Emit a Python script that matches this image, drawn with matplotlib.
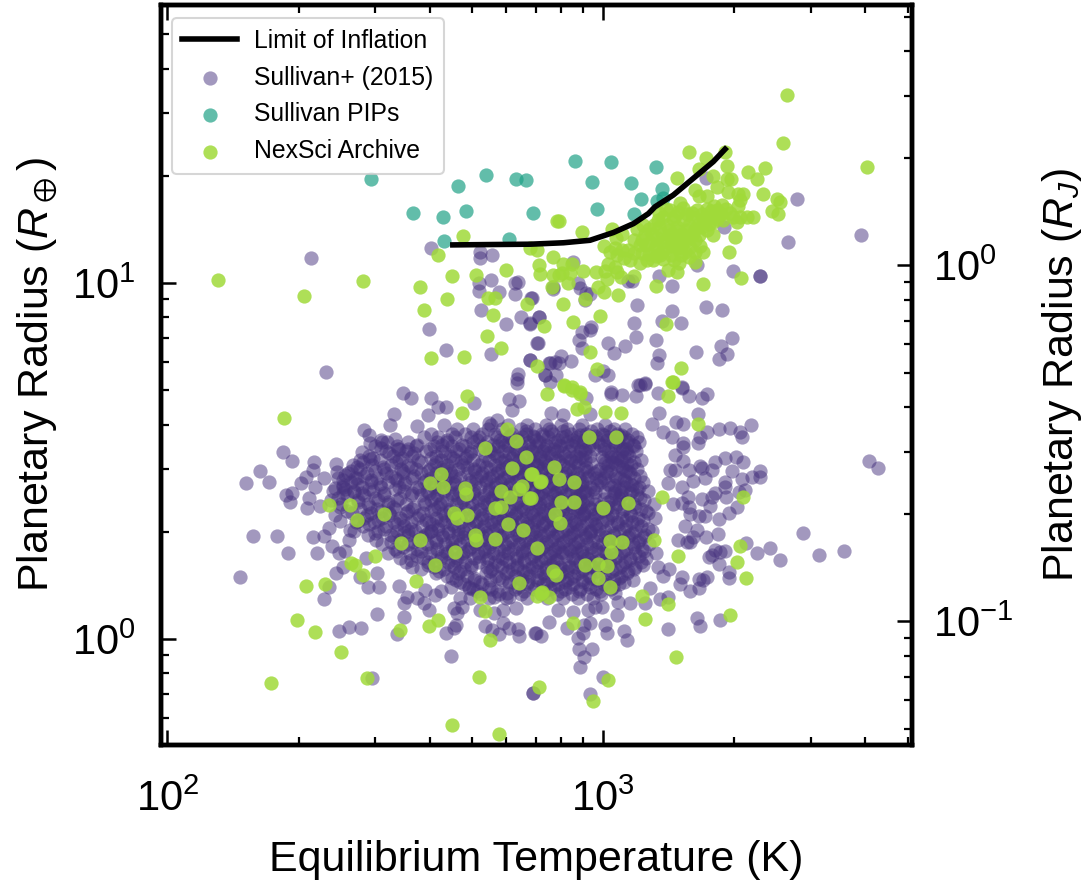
import numpy as np
import matplotlib
matplotlib.use("Agg")
import matplotlib.pyplot as plt

# All values are log10(Teq / K), log10(R / Rearth).
limit_log_teq = [2.655, 2.74, 2.833, 2.909, 2.970, 3.024, 3.070, 3.104, 3.119, 3.161, 3.207, 3.253, 3.280]
limit_log_rad = [1.107, 1.108, 1.109, 1.113, 1.120, 1.142, 1.167, 1.195, 1.214, 1.247, 1.294, 1.341, 1.376]

pips = [(2.467,1.291),(2.564,1.198),(2.632,1.185),(2.686,1.203),(2.668,1.272),(2.731,1.303),(2.801,1.293),
(2.822,1.288),(2.838,1.198),(2.635,1.117),(2.785,1.123),(2.935,1.342),(3.019,1.339),(3.121,1.326),(2.974,1.284),
(3.063,1.282),(3.087,1.237),(3.135,1.265),(3.123,1.231),(3.137,1.240),(2.986,1.207),(3.070,1.194)]

archive_upper = [(2.116,1.008),(2.313,.964),(2.448,1.006),(2.580,.988),(2.642,.955),(2.588,.923),(2.652,1.021),
(2.622,1.079),(2.678,1.131),(2.708,1.023),(2.777,1.037),(2.735,.957),(2.752,.959),(2.747,.910),(2.825,.941),
(2.865,.878),(2.734,.852),(2.765,.817),(2.605,.789),(2.680,.792),(2.849,.767),(2.833,1.097),(2.848,1.093),
(2.885,1.072),(2.852,1.050),(2.856,1.025),(2.885,1.023),(2.898,1.023),(2.882,.990),(2.894,1.175),
(3.422,1.527),(3.414,1.393),(3.606,1.326),(3.197,1.367),(3.236,1.350),(3.219,1.321),(3.285,1.329),(3.280,1.369),
(3.333,1.312),(3.372,1.322),(3.353,1.291),(3.169,1.295),(3.253,1.300),(3.284,1.293),(3.294,1.292),(3.261,1.270),
(3.211,1.261),(3.366,1.249),(3.398,1.236),(3.407,1.227),(3.388,1.201),(3.401,1.194),(3.345,1.185),(3.330,1.185),
(3.299,1.186),(3.314,1.186),(3.307,1.172),(3.322,1.250),(3.310,1.250),(3.314,1.233),(3.310,1.216),(3.287,1.256),
(3.272,1.219),(3.238,1.244),(3.219,1.244),(3.177,1.226),(2.898,1.174),(2.952,1.144),(3.020,1.153)]

archive_cluster = [(3.154,1.205),(3.173,1.200),(3.192,1.195),(3.215,1.205),(3.238,1.209),(3.261,1.205),(3.249,1.186),
(3.230,1.181),(3.207,1.186),(3.184,1.177),(3.161,1.181),(3.138,1.186),(3.127,1.177),(3.116,1.163),(3.146,1.163),
(3.169,1.158),(3.196,1.163),(3.219,1.167),(3.242,1.167),(3.261,1.181),(3.112,1.139),(3.135,1.139),(3.158,1.139),
(3.181,1.139),(3.207,1.139),(3.226,1.158),(3.252,1.135),(3.303,1.130),(3.096,1.139),(3.077,1.153),(3.070,1.121),
(3.089,1.121),(3.108,1.116),(3.135,1.116),(3.158,1.116),(3.180,1.111),(3.211,1.121),(3.192,1.121),(3.085,1.106),
(3.119,1.093),(3.146,1.097),(3.169,1.097),(3.188,1.088),(3.211,1.088),(3.230,1.088),(3.289,1.088),(3.131,1.078),
(3.115,1.064),(3.100,1.064),(3.085,1.055),(3.062,1.064),(3.047,1.069),(3.031,1.078),(3.016,1.088),(3.002,1.104),
(3.030,1.125),(3.043,1.139),(3.163,1.064),(3.175,1.055),(3.211,1.060),(3.150,1.036),(3.169,1.032),(3.070,1.020),
(3.121,.991),(3.230,.998),(3.316,1.014),(2.907,1.052),(2.928,1.052),(2.905,1.027),(2.924,1.027),(2.953,1.033),
(2.983,1.032),(3.005,1.033),(3.012,1.052),(3.028,1.046),(3.010,1.010),(3.031,1.032),(3.041,1.018),(2.920,.999),
(2.988,.988),(3.001,.975),(3.034,.966),(2.959,.954),(2.909,.941),(2.930,.889),(2.992,.907),(3.144,.885),
(2.971,.806),(2.986,.758),(3.179,.762),(3.160,.723),(2.911,.713),(2.928,.707),(2.946,.695)]

archive_core_extra = [(3.128,1.196),(3.145,1.207),(3.166,1.188),(3.183,1.212),(3.203,1.196),(3.226,1.195),(3.247,1.201),
(3.271,1.193),(3.283,1.208),(3.252,1.172),(3.231,1.172),(3.211,1.152),(3.192,1.149),(3.173,1.147),(3.152,1.150),
(3.128,1.156),(3.105,1.151),(3.091,1.164),(3.123,1.127),(3.146,1.127),(3.168,1.126),(3.199,1.128),(3.178,1.128),
(3.221,1.134),(3.238,1.148),(3.098,1.108),(3.122,1.104),(3.158,1.105),(3.178,1.101),(3.199,1.102),(3.222,1.104),
(3.135,1.086),(3.156,1.080),(3.178,1.078),(3.121,1.075),(3.106,1.082),(3.089,1.083),(3.072,1.085),(3.058,1.094),
(3.044,1.092),(3.027,1.098),(3.197,1.074),(3.138,1.066),(3.269,1.193),(3.254,1.215),(3.292,1.196),(3.276,1.176)]

archive_lower = [(2.267,.620),(2.687,.683),(2.676,.635),(2.779,.589),(2.800,.555),(2.729,.536),(2.823,.512),
(2.628,.464),(2.791,.479),(2.834,.462),(2.602,.438),(2.632,.427),(2.682,.423),(2.685,.406),(2.765,.416),
(2.814,.430),(2.806,.420),(2.787,.399),(2.829,.396),(2.854,.442),(2.370,.377),(2.418,.377),(2.436,.333),
(2.496,.352),(2.657,.355),(2.664,.340),(2.687,.349),(2.752,.367),(2.765,.372),(2.781,.323),(2.817,.306),
(2.706,.292),(2.708,.277),(2.751,.282),(2.536,.269),(2.580,.279),(2.660,.244),(2.848,.256),(2.476,.234),
(2.613,.208),(2.421,.213),(2.431,.207),(2.449,.180),(2.317,.150),(2.361,.155),(2.571,.162),(2.808,.156),
(2.718,.118),(2.849,.121),(2.728,.079),(2.298,.053),(2.339,.020),(2.398,-.037),(2.533,.024),(2.601,.036),
(2.620,.054),(2.741,-.004),(2.237,-.123),(2.458,-.111),(2.714,-.107),(2.852,-.136),(2.652,-.243),(2.761,-.267),
(2.871,.688),(2.911,.712),(2.928,.699),(2.946,.688),(2.940,.645),(2.955,.653),(3.005,.637),(3.041,.635),
(3.150,.683),(3.159,.723),(3.217,.603),(2.967,.567),(3.029,.568),(2.887,.484),(2.836,.463),(2.858,.444),
(2.898,.448),(2.934,.440),(2.834,.395),(2.903,.384),(2.933,.385),(3.000,.369),(3.058,.381),(3.136,.399),
(3.322,.399),(2.890,.351),(2.902,.326),(3.016,.275),(3.043,.271),(3.018,.243),(3.116,.279),(2.959,.209),
(2.989,.210),(3.008,.205),(2.989,.172),(2.885,.192),(2.892,.180),(3.016,.146),(3.090,.121),(3.149,.097),
(3.171,.234),(3.314,.261),(3.307,.215),(3.328,.171),(3.291,.066),(3.096,.057),(2.930,.046),(3.167,-.050),
(3.012,-.116),(2.977,-.174),(2.858,.128),(2.875,.117),(2.859,.133)]

sullivan_upper = [(2.330,1.071),(2.606,1.099),(2.718,1.086),(2.745,1.079),(2.718,1.069),(2.716,.999),(2.742,1.007),
(2.714,.978),(2.762,.975),(2.798,1.001),(2.804,1.004),(2.798,.968),(2.834,.957),(2.719,.923),(2.812,.905),
(2.778,.885),(2.833,.887),(2.852,.905),(2.600,.871),(2.849,.831),(2.639,.811),(2.742,.801),(2.833,.785),
(2.875,.774),(2.890,.779),(2.364,.750),(2.804,.744),(2.802,.730),(2.867,.742),(2.886,.990),(3.446,1.236),
(3.592,1.134),(3.425,1.114),(3.236,1.296),(3.278,1.157),(2.932,1.060),(3.215,1.050),(3.297,1.034),(3.360,1.019),
(3.360,1.019),(3.129,1.019),(3.157,.992),(3.066,1.005),(3.058,1.005),(2.943,1.001),(2.947,.985),(2.886,.982),
(2.961,.971),(2.970,.969),(2.959,.952),(2.836,.957),(3.077,.938),(3.235,.933),(3.273,.924),(3.157,.922),
(2.852,.904),(2.833,.886),(3.070,.888),(3.135,.894),(3.178,.887),(2.972,.877),(2.969,.868),(2.951,.861),
(2.945,.839),(3.076,.848),(3.122,.841),(3.296,.845),(3.011,.830),(3.050,.822),(2.850,.830),(2.951,.816),
(3.271,.822),(3.026,.803),(3.213,.806),(3.284,.801),(3.129,.798),(3.265,.787),(3.123,.775),(2.904,.796),
(2.927,.782),(2.878,.774),(2.898,.774),(2.833,.785),(2.867,.741),(2.892,.741),(2.982,.741),(2.999,.753),
(3.011,.741),(2.878,.722),(3.081,.713),(3.096,.718),(3.180,.707),(3.017,.694)]

sullivan_right = [(3.076,.683),(3.017,.688),(3.044,.686),(3.127,.690),(3.182,.704),(3.196,.683),(3.226,.676),
(3.239,.688),(3.085,.713),(3.096,.716),(2.961,.676),(2.970,.631),(2.880,.636),(2.907,.629),(3.129,.634),(3.217,.632),
(3.112,.603),(3.167,.610),(3.183,.604),(3.138,.582),(3.158,.566),(3.238,.582),(3.222,.568),(3.267,.589),(3.291,.594),
(3.314,.582),(3.319,.568),(3.340,.601),(3.217,.551),(3.184,.550),(3.184,.540),(3.165,.517),(3.257,.498),(3.280,.507),
(3.304,.510),(3.322,.496),(3.295,.473),(3.359,.472),(3.341,.456),(3.359,.456),(3.319,.448),(3.610,.499),(3.630,.480),
(3.184,.500),(3.154,.475),(3.165,.475),(3.198,.475),(3.222,.486),(3.226,.479),(3.249,.475),(3.234,.451),(3.207,.444),
(3.280,.442),(3.280,.428),(3.150,.437),(3.180,.428),(3.312,.414),(3.326,.419),(3.257,.411),(3.251,.400),(3.281,.400),
(3.226,.393),(3.194,.400),(3.245,.374),(3.308,.371),(3.289,.353),(3.266,.337),(3.198,.372),(3.200,.351),(3.219,.344),
(3.234,.344),(3.180,.381),(3.161,.378),(3.188,.317),(3.215,.306),(3.264,.295),(3.236,.286),(3.173,.278),(3.192,.273),
(3.200,.273),(3.207,.287),(3.328,.269),(3.383,.255),(3.354,.241),(3.406,.222),(3.459,.297),(3.496,.235),(3.554,.248),
(3.257,.250),(3.280,.248),(3.268,.245),(3.242,.231),(3.249,.236),(3.267,.210),(3.288,.187),(3.290,.172),(3.180,.175),
(3.177,.154),(3.219,.168),(3.230,.166),(3.238,.175),(3.219,.142),(3.200,.136),(3.150,.119),(3.131,.113),(3.152,.197),
(3.138,.178),(3.108,.142),(3.062,.100),(3.096,.102),(3.033,.067),(3.215,.058),(3.222,.037),(3.268,.052),(3.148,.027),
(3.005,.039),(3.010,.018),(3.047,.021),(3.054,-.004),(2.974,-.029),(2.945,-.027),(2.943,.002),(2.953,.016),(2.957,-.050),
(2.947,-.078),(2.999,-.106),(2.969,-.154),(2.839,-.151),(2.917,.030),(2.857,.007),(2.844,.016),(2.876,.047),(2.970,.046),
(2.955,.039),(2.896,.080),(2.932,.077),(2.966,.081),(2.997,.091),(2.982,.091),(3.035,.105),(3.028,.128)]

sullivan_left = [(2.540,.692),(2.559,.678),(2.606,.678),(2.703,.662),(2.620,.651),(2.639,.651),(2.802,.718),(2.783,.673),
(2.808,.669),(2.791,.643),(2.521,.633),(2.599,.629),(2.510,.602),(2.737,.606),(2.756,.615),(2.450,.587),(2.462,.573),
(2.573,.599),(2.634,.601),(2.464,.550),(2.489,.559),(2.523,.561),(2.265,.526),(2.286,.500),(2.447,.525),(2.466,.505),
(2.489,.536),(2.552,.533),(2.336,.498),(2.387,.492),(2.213,.473),(2.180,.439),(2.232,.440),(2.317,.456),(2.334,.475),
(2.307,.437),(2.359,.451),(2.273,.405),(2.286,.409),(2.282,.385),(2.324,.395),(2.339,.428),(2.320,.369),(2.351,.374),
(2.385,.423),(2.389,.470),(2.408,.461),(2.404,.409),(2.385,.348),(2.197,.289),(2.252,.289),(2.277,.242),(2.334,.286),
(2.359,.289),(2.370,.311),(2.343,.241),(2.378,.261),(2.393,.241),(2.408,.247),(2.420,.306),(2.416,.278),(2.167,.174),
(2.387,.185),(2.404,.201),(2.443,.175),(2.370,.146),(2.460,.145),(2.485,.145),(2.360,.112),(2.456,.227),(2.481,.184),
(2.531,.150),(2.550,.119),(2.542,.102),(2.592,.138),(2.573,.114),(2.588,.102),(2.615,.124),(2.629,.136),(2.651,.147),
(2.601,.080),(2.481,.070),(2.544,.062),(2.657,.088),(2.676,.091),(2.664,.072),(2.663,.039),(2.658,.030),(2.639,.017),
(2.393,.021),(2.417,.034),(2.444,.032),(2.528,.014),(2.651,-.047),(2.469,-.110),(2.839,-.151),(2.728,.037),(2.745,.025),
(2.760,.014),(2.783,.030),(2.804,.028),(2.806,.009),(2.846,.016),(2.771,.044),(2.749,.072),(2.771,.081),(2.800,.086),
(2.718,.081),(2.695,.114),(2.672,.114),(2.691,.142),(2.741,.166),(2.779,.128),(2.783,.119),(2.749,.119)]

# Dense core of the Sullivan sample: estimated per radius band.
core_log_rad = [.602,.590,.577,.566,.552,.541,.528,.515,.503,.490,.478,.465,.453,.441,.427,.416,.403,.390,.378,.366,
                .353,.340,.328,.316,.303,.291,.279,.266,.253,.241,.228,.216,.203,.191,.178,.165,.153,.140,.127,.115]
core_log_teq = [
 [2.742,2.781,2.826,2.868,2.903,2.951,3.004],
 [2.664,2.701,2.735,2.769,2.812,2.843,2.876,2.918,2.944,2.987,3.024,3.051],
 [2.604,2.652,2.684,2.722,2.751,2.791,2.822,2.859,2.884,2.927,2.961,2.998,3.033,3.066],
 [2.588,2.622,2.661,2.697,2.716,2.756,2.784,2.813,2.841,2.874,2.905,2.941,2.969,3.012,3.047,3.078],
 [2.492,2.551,2.618,2.642,2.701,2.733,2.769,2.796,2.828,2.853,2.889,2.918,2.953,2.988,3.022,3.054,3.083],
 [2.476,2.527,2.571,2.612,2.653,2.683,2.724,2.758,2.781,2.812,2.847,2.871,2.902,2.931,2.967,3.003,3.038,3.071],
 [2.502,2.548,2.593,2.631,2.662,2.697,2.741,2.771,2.802,2.836,2.862,2.893,2.922,2.948,3.011,3.043,3.075],
 [2.462,2.518,2.561,2.617,2.648,2.687,2.729,2.756,2.793,2.821,2.854,2.881,2.912,2.938,2.971,3.028,3.059],
 [2.441,2.487,2.532,2.575,2.627,2.659,2.701,2.738,2.774,2.806,2.839,2.866,2.897,2.927,2.958,3.001,3.041,3.088],
 [2.427,2.469,2.513,2.552,2.612,2.641,2.679,2.716,2.752,2.784,2.815,2.848,2.873,2.909,2.943,3.012,3.034,3.065],
 [2.443,2.496,2.537,2.571,2.602,2.638,2.668,2.704,2.741,2.769,2.801,2.829,2.862,2.891,2.924,2.956,2.992,3.046,3.078],
 [2.414,2.458,2.502,2.541,2.583,2.617,2.651,2.689,2.723,2.757,2.792,2.823,2.851,2.884,2.912,2.941,2.978,3.008,3.061],
 [2.392,2.436,2.481,2.523,2.561,2.604,2.642,2.672,2.708,2.738,2.773,2.806,2.837,2.868,2.897,2.933,2.962,3.031,3.072],
 [2.421,2.468,2.507,2.546,2.588,2.627,2.661,2.697,2.731,2.764,2.798,2.824,2.853,2.881,2.917,2.951,2.994,3.052,3.091],
 [2.403,2.446,2.491,2.532,2.572,2.611,2.648,2.681,2.717,2.752,2.782,2.811,2.843,2.872,2.904,2.938,2.969,3.017,3.048,3.082],
 [2.381,2.429,2.471,2.543,2.596,2.634,2.669,2.703,2.738,2.771,2.804,2.836,2.863,2.893,2.926,2.958,3.027,3.066,3.103],
 [2.412,2.452,2.498,2.558,2.583,2.619,2.654,2.691,2.726,2.758,2.789,2.822,2.851,2.884,2.913,2.947,3.041,3.078],
 [2.376,2.437,2.483,2.527,2.604,2.641,2.678,2.712,2.744,2.776,2.808,2.839,2.871,2.902,2.933,2.964,3.019,3.058,3.094],
 [2.398,2.461,2.506,2.547,2.592,2.626,2.662,2.699,2.733,2.762,2.797,2.827,2.856,2.889,2.921,2.953,2.982,3.034,3.072,3.116],
 [2.442,2.481,2.522,2.561,2.611,2.648,2.682,2.718,2.751,2.784,2.816,2.846,2.877,2.908,2.941,2.972,3.006,3.047,3.086],
 [2.423,2.467,2.508,2.547,2.586,2.633,2.668,2.704,2.737,2.768,2.801,2.834,2.864,2.893,2.924,2.957,2.988,3.021,3.062,3.104],
 [2.451,2.493,2.534,2.573,2.617,2.652,2.689,2.723,2.756,2.791,2.823,2.853,2.881,2.914,2.946,2.978,3.012,3.043,3.079,3.118],
 [2.432,2.474,2.519,2.558,2.601,2.638,2.674,2.709,2.742,2.776,2.809,2.841,2.869,2.902,2.934,2.963,2.997,3.031,3.066],
 [2.448,2.501,2.542,2.584,2.622,2.658,2.693,2.727,2.762,2.794,2.827,2.859,2.888,2.921,2.951,2.984,3.018,3.052,3.088],
 [2.429,2.483,2.527,2.568,2.606,2.644,2.679,2.712,2.748,2.781,2.813,2.846,2.876,2.907,2.939,2.971,3.004,3.037,3.073,3.112],
 [2.461,2.512,2.553,2.592,2.631,2.666,2.701,2.735,2.768,2.802,2.834,2.864,2.896,2.927,2.958,2.992,3.026,3.059,3.097],
 [2.478,2.534,2.576,2.617,2.653,2.687,2.722,2.756,2.789,2.821,2.852,2.883,2.914,2.946,2.977,3.011,3.046,3.083],
 [2.493,2.551,2.596,2.637,2.672,2.707,2.741,2.774,2.807,2.839,2.871,2.902,2.933,2.964,2.998,3.033,3.068,3.106],
 [2.522,2.573,2.618,2.656,2.692,2.727,2.761,2.793,2.826,2.858,2.889,2.921,2.952,2.983,3.018,3.052,3.089],
 [2.507,2.556,2.603,2.641,2.679,2.713,2.748,2.782,2.814,2.846,2.877,2.909,2.941,2.973,3.007,3.041,3.074,3.121],
 [2.533,2.586,2.627,2.664,2.703,2.736,2.769,2.803,2.834,2.866,2.931,2.962,3.028,3.062,3.098],
 [2.547,2.598,2.643,2.682,2.716,2.752,2.784,2.818,2.851,2.884,2.948,2.979,3.016,3.051,3.087],
 [2.561,2.612,2.657,2.696,2.733,2.768,2.802,2.836,2.869,2.902,2.936,2.968,3.003,3.038,3.073,3.126],
 [2.623,2.671,2.741,2.782,2.816,2.849,2.884,2.917,2.952,2.986,3.021,3.058],
 [2.641,2.688,2.754,2.797,2.831,2.866,2.899,2.934,2.968,3.004,3.041],
 [2.662,2.703,2.768,2.814,2.848,2.882,2.917,2.951,2.987,3.024,3.068],
 [2.681,2.722,2.783,2.826,2.862,2.897,2.931,2.966,3.002,3.037],
 [2.702,2.742,2.797,2.841,2.878,2.913,2.948,2.983,3.018],
 [2.719,2.761,2.811,2.857,2.893,2.928,2.962,2.996],
 [2.738,2.776,2.826,2.871,2.908,2.943,2.977],
]

# Second pass through the same core, at in-between radii.
core2_log_rad = [.583,.571,.559,.546,.534,.521,.509,.496,.484,.471,.459,.447,.434,.422,.409,.397,.384,.372,.359,.347,
                 .334,.322,.309,.297,.285,.272,.259,.247,.234,.222,.209,.197,.184,.172,.159,.146,.134]
core2_log_teq = [
 [2.823,2.881,2.907,2.973,3.016],
 [2.787,2.839,2.861,2.915,2.982,3.037],
 [2.642,2.711,2.763,2.805,2.847,2.896,2.932,2.957,3.009,3.058],
 [2.573,2.631,2.676,2.748,2.774,2.829,2.869,2.901,2.926,2.992,3.028,3.069],
 [2.529,2.602,2.669,2.714,2.738,2.801,2.833,2.864,2.888,2.949,2.978,3.046],
 [2.508,2.566,2.638,2.694,2.749,2.783,2.818,2.846,2.876,2.907,2.958,3.018,3.054],
 [2.472,2.539,2.604,2.655,2.683,2.762,2.791,2.829,2.856,2.889,2.921,2.944,3.033],
 [2.448,2.524,2.583,2.617,2.674,2.721,2.768,2.807,2.838,2.869,2.901,2.936,3.021,3.071],
 [2.436,2.494,2.558,2.632,2.688,2.731,2.778,2.813,2.848,2.879,2.919,2.961,3.043],
 [2.421,2.477,2.541,2.598,2.648,2.707,2.759,2.794,2.826,2.857,2.892,2.931,3.006,3.058],
 [2.452,2.512,2.566,2.627,2.661,2.719,2.746,2.782,2.817,2.844,2.881,2.909,2.968,3.027,3.084],
 [2.403,2.468,2.527,2.593,2.638,2.693,2.731,2.768,2.803,2.833,2.864,2.898,2.927,2.992,3.049],
 [2.434,2.488,2.543,2.612,2.658,2.706,2.753,2.787,2.824,2.852,2.884,2.916,2.952,3.012,3.062],
 [2.408,2.463,2.522,2.578,2.624,2.684,2.738,2.772,2.806,2.841,2.873,2.903,2.938,2.976,3.037,3.078],
 [2.447,2.497,2.561,2.601,2.652,2.702,2.751,2.791,2.818,2.858,2.889,2.924,2.963,3.024,3.061],
 [2.392,2.476,2.534,2.612,2.666,2.712,2.743,2.781,2.829,2.862,2.897,2.936,3.036,3.084],
 [2.438,2.507,2.589,2.631,2.673,2.726,2.762,2.802,2.846,2.878,2.913,2.951,3.011,3.053],
 [2.466,2.518,2.566,2.622,2.693,2.737,2.769,2.811,2.852,2.887,2.929,2.967,3.028,3.073],
 [2.412,2.489,2.552,2.604,2.648,2.708,2.753,2.789,2.824,2.863,2.898,2.942,2.998,3.044,3.098],
 [2.457,2.511,2.578,2.636,2.674,2.721,2.763,2.798,2.838,2.873,2.912,2.954,3.021,3.063],
 [2.484,2.541,2.594,2.627,2.692,2.734,2.771,2.813,2.849,2.886,2.927,2.973,3.008,3.052,3.091],
 [2.463,2.527,2.608,2.652,2.704,2.747,2.788,2.826,2.861,2.899,2.938,2.982,3.034,3.077],
 [2.497,2.559,2.622,2.668,2.717,2.756,2.797,2.838,2.877,2.916,2.948,2.991,3.047,3.102],
 [2.476,2.543,2.598,2.647,2.683,2.731,2.773,2.816,2.854,2.893,2.931,2.969,3.023,3.066],
 [2.521,2.584,2.633,2.679,2.724,2.764,2.807,2.846,2.884,2.922,2.961,3.004,3.056,3.092],
 [2.512,2.567,2.616,2.661,2.708,2.752,2.794,2.833,2.869,2.907,2.943,2.988,3.034,3.081],
 [2.541,2.604,2.652,2.697,2.738,2.781,2.822,2.861,2.897,2.936,2.972,3.018,3.071],
 [2.527,2.581,2.638,2.686,2.729,2.772,2.813,2.851,2.888,2.927,3.001,3.046,3.093],
 [2.572,2.627,2.673,2.716,2.759,2.801,2.842,2.878,2.914,2.957,3.031,3.082],
 [2.558,2.613,2.661,2.733,2.776,2.819,2.857,2.894,2.936,3.014,3.061],
 [2.597,2.651,2.697,2.758,2.802,2.846,2.881,2.921,2.971,3.043,3.091],
 [2.583,2.634,2.681,2.746,2.791,2.831,2.869,2.906,2.953,3.027,3.072],
 [2.617,2.668,2.731,2.778,2.823,2.861,2.903,2.943,3.012,3.054],
 [2.654,2.704,2.762,2.808,2.853,2.889,2.926,2.972,3.036],
 [2.672,2.717,2.784,2.828,2.871,2.912,2.953,3.007,3.048],
 [2.691,2.738,2.804,2.846,2.887,2.924,2.971,3.022],
 [2.711,2.756,2.819,2.866,2.903,2.944,2.992],
]

# Third pass: filling the thin spots of the core and its left edge.
core3_log_rad = [.574,.552,.533,.512,.493,.472,.451,.433,.412,.393,.371,.352,.331,.302,.243,.222,.201]
core3_log_teq = [
 [2.948,3.003,3.041],
 [2.937,2.975,3.031,2.503],
 [2.958,3.001,3.052,2.531],
 [2.952,2.997,3.019,3.048],
 [2.973,3.005,3.027,3.055],
 [2.962,2.986,3.015,3.052],
 [2.944,2.984,3.003,3.038,2.431],
 [2.948,2.986,3.026,3.066,2.402],
 [2.957,2.981,3.004,3.041,2.428],
 [2.948,2.982,3.003,3.033],
 [2.947,2.993,3.011,2.395],
 [2.956,2.981],
 [2.395,2.438],
 [2.552,2.606,2.972],
 [2.906,2.951,2.989],
 [2.892,2.967,2.992,3.006],
 [2.921,2.978,2.998],
]

plt.rcParams['font.family'] = ['Liberation Sans', 'DejaVu Sans']
plt.rcParams['mathtext.fontset'] = 'custom'
plt.rcParams['mathtext.rm'] = 'Liberation Sans'
plt.rcParams['mathtext.it'] = 'Liberation Sans:italic'
plt.rcParams['mathtext.bf'] = 'Liberation Sans:bold'
plt.rcParams['mathtext.fallback'] = 'stixsans'

W, H = 1083, 882
fig = plt.figure(figsize=(W/100, H/100), dpi=100)
ax = fig.add_axes([160.5/W, 1-745/H, (912-160.5)/W, (745-5)/H])

sullivan = sullivan_upper + sullivan_right + sullivan_left
s_x = [p[0] for p in sullivan]
s_y = [p[1] for p in sullivan]
for rads, rows in ((core_log_rad, core_log_teq), (core2_log_rad, core2_log_teq), (core3_log_rad, core3_log_teq)):
    for r, row in zip(rads, rows):
        s_x += row
        s_y += [r]*len(row)
archive = archive_upper + archive_cluster + archive_core_extra + archive_lower
a_x, a_y = zip(*archive)
p_x, p_y = zip(*pips)

size = 105
ax.plot(10**np.array(limit_log_teq), 10**np.array(limit_log_rad), color='k', lw=4, label='Limit of Inflation', zorder=5)
ax.scatter(10**np.array(s_x), 10**np.array(s_y), s=size, c='#46327e', alpha=0.5, linewidths=0, label='Sullivan+ (2015)', zorder=2)
ax.scatter(10**np.array(p_x), 10**np.array(p_y), s=size, c='#1fa187', alpha=0.7, linewidths=0, label='Sullivan PIPs', zorder=3)
ax.scatter(10**np.array(a_x), 10**np.array(a_y), s=size, c='#a0da39', alpha=0.85, linewidths=0, label='NexSci Archive', zorder=4)

ax.set_xscale('log'); ax.set_yscale('log')
ax.set_xlim(10**1.984, 10**3.709)
ax.set_ylim(10**-0.298, 10**1.781)
ax.set_xlabel('Equilibrium Temperature (K)', fontsize=31, labelpad=14)
ax.set_ylabel(r'Planetary Radius ($R_\oplus$)', fontsize=31, labelpad=9)
ax.tick_params(axis='both', which='major', direction='in', length=10.5, width=1.8, labelsize=30, pad=18)
ax.tick_params(axis='x', which='major', pad=25)
ax.tick_params(axis='both', which='minor', direction='in', length=6, width=1.6)
ax.tick_params(axis='x', which='both', top=True)
for s in ax.spines.values():
    s.set_linewidth(3.2)

ax2 = ax.twinx()
ax2.set_yscale('log')
ax2.set_ylim(10**-0.298/11.2, 10**1.781/11.2)
ax2.set_ylabel(r'Planetary Radius ($R_J$)', fontsize=31, labelpad=19)
ax2.tick_params(axis='y', which='major', direction='in', length=10.5, width=1.8, labelsize=30, pad=15)
ax2.tick_params(axis='y', which='minor', direction='in', length=6, width=1.6)
for s in ax2.spines.values():
    s.set_linewidth(3.2)

leg = ax.legend(loc='upper left', bbox_to_anchor=(0.0153, 0.982), borderaxespad=0, fontsize=17.8,
                frameon=True, framealpha=0.8, edgecolor='#cccccc', fancybox=True, labelspacing=0.52,
                handlelength=2.2, handletextpad=0.7, borderpad=0.42)
leg.get_frame().set_linewidth(1.5)
leg.set_zorder(10)

fig.savefig('out.png', dpi=100)
